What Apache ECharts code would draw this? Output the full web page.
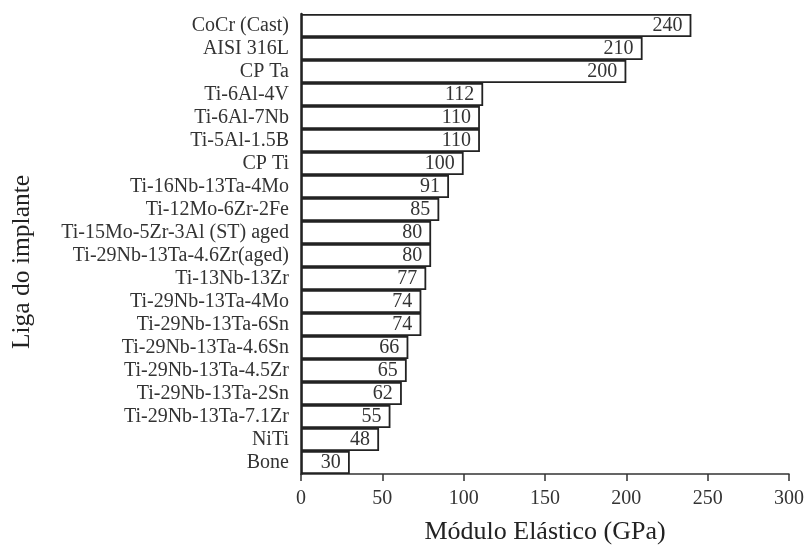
<!DOCTYPE html>
<html>
<head>
<meta charset="utf-8">
<script src="https://cdn.jsdelivr.net/npm/echarts@6/dist/echarts.min.js"></script>
<style>
  html, body { margin: 0; padding: 0; background: #fff; }
  #main { width: 804px; height: 549px; }
</style>
</head>
<body>
<div id="main"></div>
<script>
// alloys, top to bottom as in the figure
var ligas = [
  'CoCr (Cast)', 'AISI 316L', 'CP Ta', 'Ti-6Al-4V', 'Ti-6Al-7Nb', 'Ti-5Al-1.5B',
  'CP Ti', 'Ti-16Nb-13Ta-4Mo', 'Ti-12Mo-6Zr-2Fe', 'Ti-15Mo-5Zr-3Al (ST) aged',
  'Ti-29Nb-13Ta-4.6Zr(aged)', 'Ti-13Nb-13Zr', 'Ti-29Nb-13Ta-4Mo', 'Ti-29Nb-13Ta-6Sn',
  'Ti-29Nb-13Ta-4.6Sn', 'Ti-29Nb-13Ta-4.5Zr', 'Ti-29Nb-13Ta-2Sn', 'Ti-29Nb-13Ta-7.1Zr',
  'NiTi', 'Bone'
];
var modulo = [240, 210, 200, 112, 110, 110, 100, 91, 85, 80, 80, 77, 74, 74, 66, 65, 62, 55, 48, 30];
var ticksX = [0, 50, 100, 150, 200, 250, 300];

var serif = '"Liberation Serif", "DejaVu Serif", serif';
var myChart = echarts.init(document.getElementById('main'));

var option = {
  backgroundColor: '#fff',
  animation: false,
  grid: { left: 301, right: 15, top: 14, bottom: 75, outerBoundsMode: 'none', containLabel: false },
  xAxis: {
    type: 'value',
    min: ticksX[0],
    max: ticksX[ticksX.length - 1],
    interval: 50,
    name: 'Módulo Elástico (GPa)',
    nameLocation: 'middle',
    nameGap: 45,
    nameTextStyle: { fontFamily: serif, fontSize: 26, color: '#222' },
    axisLine: { show: true, lineStyle: { color: '#333', width: 1.5 } },
    axisTick: { show: true, length: 7, lineStyle: { color: '#333', width: 1.5 } },
    axisLabel: { fontFamily: serif, fontSize: 20, color: '#333', margin: 15 },
    splitLine: { show: false }
  },
  yAxis: {
    type: 'category',
    data: ligas,
    inverse: true,
    name: 'Liga do implante',
    nameLocation: 'middle',
    nameGap: 266,
    nameRotate: 90,
    nameTextStyle: { fontFamily: serif, fontSize: 25.5, color: '#222', padding: [0, 36, 0, 0] },
    axisLine: { show: true, lineStyle: { color: '#222', width: 2.5 } },
    axisTick: { show: false },
    axisLabel: { fontFamily: serif, fontSize: 20, color: '#333', margin: 12, interval: 0 }
  },
  series: [{
    type: 'bar',
    data: modulo,
    barCategoryGap: 0,
    itemStyle: { color: '#fff', borderColor: '#222', borderWidth: 1.8 },
    label: {
      show: true,
      position: 'insideRight',
      distance: 9,
      fontFamily: serif,
      fontSize: 20,
      color: '#333'
    }
  }]
};

myChart.setOption(option);
</script>
</body>
</html>
